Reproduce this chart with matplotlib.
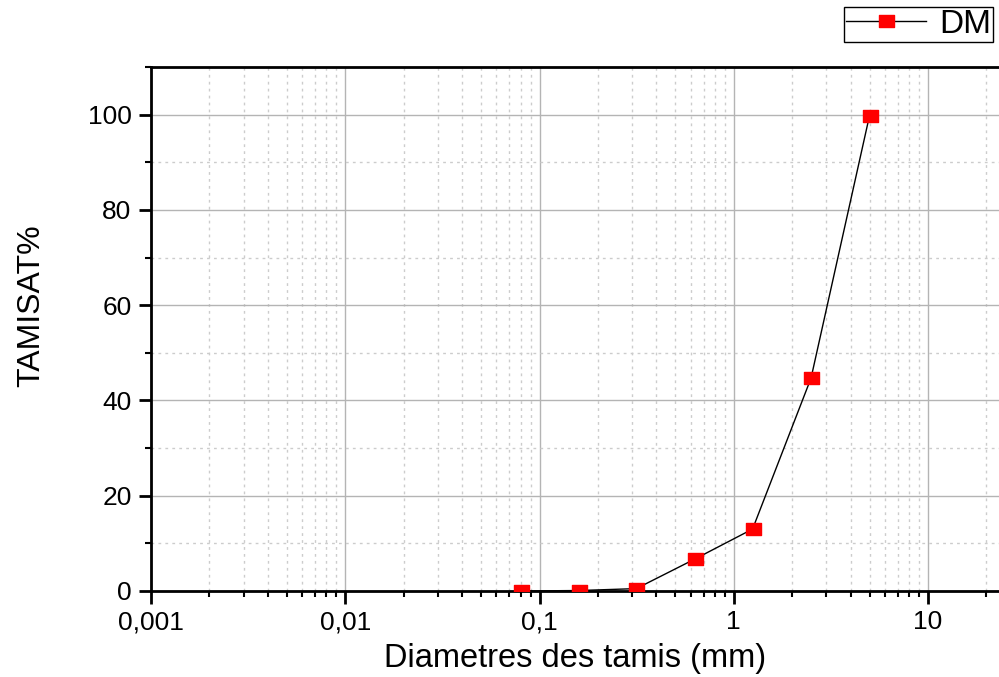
#!/usr/bin/env python3

"""Courbe granulometrique : tamisat cumule en fonction du diametre des tamis."""

import numpy as np
import matplotlib.pyplot as plt
from matplotlib.path import Path
from matplotlib.ticker import FixedLocator, FixedFormatter, MultipleLocator

plt.rcParams['font.family'] = ['Liberation Sans', 'DejaVu Sans']

# ouverture des tamis (mm) et tamisat cumule (%)
diametres = [0.08, 0.16, 0.315, 0.63, 1.25, 2.5, 5.0]
tamisat = [0.0, 0.1, 0.5, 6.7, 13.0, 44.7, 99.8]

x_ticks = [0.001, 0.01, 0.1, 1, 10]
x_labels = ['0,001', '0,01', '0,1', '1', '10']
y_ticks = [0, 20, 40, 60, 80, 100]

# carre un peu aplati pour les marqueurs
rect = Path([(-0.5, -0.4), (0.5, -0.4), (0.5, 0.4), (-0.5, 0.4), (-0.5, -0.4)],
            [Path.MOVETO, Path.LINETO, Path.LINETO, Path.LINETO, Path.CLOSEPOLY])

fig = plt.figure(figsize = (9.99, 6.77), dpi = 100)
ax = fig.add_axes([151/999, 1 - 591/677, 848/999, (591 - 67)/677])

ax.plot(diametres, tamisat, color = 'black', lw = 1.0, marker = rect, ms = 10.8,
        mfc = '#ff0000', mec = '#ff0000', label = 'DM', zorder = 3)

ax.set_xscale('log')
ax.set_xlim(0.001, 10**(848/194.25 - 3))
ax.set_ylim(0, 110)

ax.xaxis.set_major_locator(FixedLocator(x_ticks))
ax.xaxis.set_major_formatter(FixedFormatter(x_labels))
ax.yaxis.set_major_locator(FixedLocator(y_ticks))
ax.yaxis.set_minor_locator(MultipleLocator(10))

# grille : pleine pour les decades, pointillee pour le reste
ax.grid(which = 'major', color = '#b4b4b4', lw = 1.0, ls = '-')
ax.grid(which = 'minor', color = '#cccccc', lw = 1.0, ls = (0, (2, 3)))
ax.set_axisbelow(True)

ax.spines['right'].set_visible(False)
for s in ['left', 'top', 'bottom']:
    ax.spines[s].set_linewidth(2.0)
ax.tick_params(which = 'major', direction = 'out', length = 9, width = 2.0,
               labelsize = 19, pad = 5)
ax.tick_params(which = 'minor', direction = 'out', length = 4.5, width = 1.5)
ax.tick_params(axis = 'x', which = 'minor', labelbottom = False)

ax.set_xlabel('Diametres des tamis (mm)', fontsize = 23.5, labelpad = 6)
ax.set_ylabel('TAMISAT%', fontsize = 23)
ax.yaxis.set_label_coords(-0.124, 0.545)

fig.legend(loc = 'upper left', bbox_to_anchor = (844/999, 1 - 7/677),
           fontsize = 24, frameon = True, fancybox = False, edgecolor = 'black',
           framealpha = 1, borderaxespad = 0, borderpad = 0.06, handlelength = 2.4,
           handletextpad = 0.4)

fig.savefig('out.png', dpi = 100)
